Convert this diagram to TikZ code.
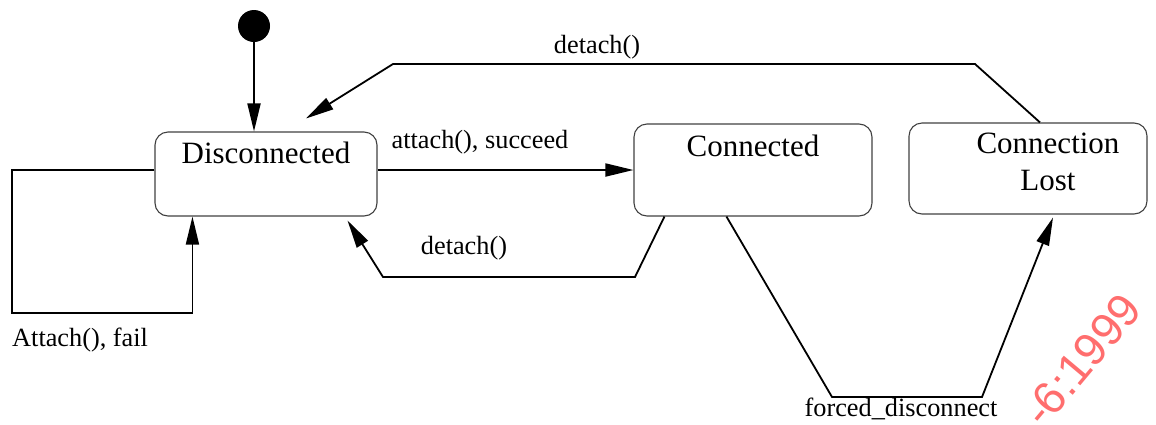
\documentclass[tikz,border=0pt]{standalone}
\usepackage{fontspec}
\setmainfont{Liberation Serif}
\newfontfamily\wmfont{Liberation Sans}
\usepackage{tikz}
\usetikzlibrary{arrows.meta,positioning}

\definecolor{wmred}{RGB}{255,110,110}

\tikzset{
  state/.style={draw=black!75, line width=1.1pt, rounded corners=13pt, inner sep=0pt},
  statename/.style={font=\fontsize{31}{37}\selectfont, inner sep=0pt, anchor=base},
  translabel/.style={font=\fontsize{26.3}{31}\selectfont, inner sep=0pt, anchor=base},
  trans/.style={line width=1.8pt, -{Triangle[length=28pt,width=13pt]}}
}

\begin{document}
\begin{tikzpicture}[x=1pt,y=-1pt]
\useasboundingbox (0,0) rectangle (1156,424);

% states
\node[circle, fill=black, minimum size=32pt, inner sep=0pt] (init) at (254,26) {};
\node[state, minimum width=222pt, minimum height=84pt] (disc) at (266,174) {};
\node[state, minimum width=238pt, minimum height=92pt] (conn) at (753,170) {};
\node[state, minimum width=238pt, minimum height=91pt] (lost) at (1028,168.5) {};

\node[statename] (disctext) at ([yshift=-32pt]disc.north) {Disconnected};
\node[statename] (conntext) at ([yshift=-33pt]conn.north) {Connected};
\node[statename] (losttexta) at ([xshift=20pt,yshift=-31pt]lost.north) {Connection};
\node[statename] (losttextb) at ([xshift=20pt,yshift=-68pt]lost.north) {Lost};

% bend points
\coordinate (lowr) at (635,277);
\coordinate (lowl) at (383,277);
\coordinate (loopsw) at (12,313);
\coordinate (topr) at (975,64);
\coordinate (topl) at (393,64);
\coordinate (botl) at (832,397);
\coordinate (botr) at (982,397);

% transitions
\draw[trans] (init.south) -- (init.south |- disc.north);
\draw[trans] (disc.east |- conn.west) -- (conn.west);
\draw[trans] ([xshift=31pt]conn.south west) -- (lowr) -- (lowl) -- ([xshift=-30pt,yshift=-4pt]disc.south east);
\draw[trans] ([yshift=4pt]disc.west) -| (loopsw) -| ([xshift=38pt]disc.south west);
\draw[trans] ([xshift=12pt]lost.north) -- (topr) -- (topl) -- ([xshift=40pt,yshift=13pt]disc.north);
\draw[trans] ([xshift=93pt]conn.south west) -- (botl) -- (botr) -- ([xshift=25pt,yshift=-3pt]lost.south);

% labels
\node[translabel] (succeed) at (480,148) {attach(), succeed};
\node[translabel] (detlow) at (464,254) {detach()};
\node[translabel, anchor=base west] (fail) at (12,346) {Attach(), fail};
\node[translabel] (dettop) at (597,53) {detach()};
\node[translabel] (forced) at (901,416) {forced\_disconnect};

\node[rotate=50, text=wmred, font=\wmfont\fontsize{46}{46}\selectfont, inner sep=0pt] (wm) at (1082,360) {-6:1999};

\end{tikzpicture}
\end{document}
